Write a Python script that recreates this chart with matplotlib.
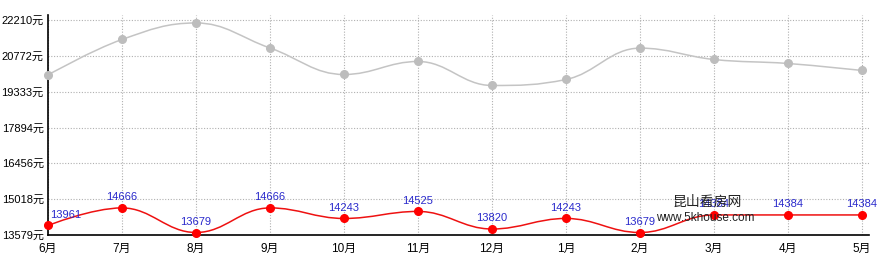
import numpy as np
import matplotlib
matplotlib.use("Agg")
import matplotlib.pyplot as plt
from matplotlib.path import Path
from matplotlib.patches import PathPatch

plt.rcParams["font.family"] = ["Liberation Sans", "Noto Sans CJK SC", "DejaVu Sans"]

months = ["6月", "7月", "8月", "9月", "10月", "11月", "12月", "1月", "2月", "3月", "4月", "5月"]
gray_vals = [20002, 21427, 22090, 21086, 20022, 20544, 19581, 19821, 21080, 20624, 20464, 20183]
red_vals = [13961, 14666, 13679, 14666, 14243, 14525, 13820, 14243, 13679, 14384, 14384, 14384]
yticks = [13579, 15018, 16456, 17894, 19333, 20772, 22210]


def spline_path(xs, ys, smoothing=1.5):
    """Highcharts-style spline: bezier control points from neighbours."""
    n = len(xs)
    ctrl = []
    for i in range(n):
        if i == 0 or i == n - 1:
            ctrl.append((None, None))
            continue
        d = smoothing + 1
        lx = (smoothing * xs[i] + xs[i - 1]) / d
        ly = (smoothing * ys[i] + ys[i - 1]) / d
        rx = (smoothing * xs[i] + xs[i + 1]) / d
        ry = (smoothing * ys[i] + ys[i + 1]) / d
        corr = (ry - ly) * (rx - xs[i]) / (rx - lx) + ys[i] - ry
        ly += corr; ry += corr
        # flatten at local extremes so the curve doesn't overshoot
        if ly > ys[i - 1] and ly > ys[i]:
            ly = max(ys[i - 1], ys[i]); ry = 2 * ys[i] - ly
        elif ly < ys[i - 1] and ly < ys[i]:
            ly = min(ys[i - 1], ys[i]); ry = 2 * ys[i] - ly
        if ry > ys[i + 1] and ry > ys[i]:
            ry = max(ys[i + 1], ys[i]); ly = 2 * ys[i] - ry
        elif ry < ys[i + 1] and ry < ys[i]:
            ry = min(ys[i + 1], ys[i]); ly = 2 * ys[i] - ry
        ctrl.append(((lx, ly), (rx, ry)))
    verts = [(xs[0], ys[0])]
    codes = [Path.MOVETO]
    for i in range(1, n):
        c1 = ctrl[i - 1][1] or (xs[i - 1], ys[i - 1])
        c2 = ctrl[i][0] or (xs[i], ys[i])
        verts += [c1, c2, (xs[i], ys[i])]
        codes += [Path.CURVE4] * 3
    return Path(verts, codes)


x = np.arange(len(months))
fig = plt.figure(figsize=(8.92, 2.7), dpi=100)
ax = fig.add_axes([48 / 892, 1 - 235 / 270, (869 - 48) / 892, 220 / 270])

ax.set_xlim(0, 11.095)
ax.set_ylim(13579, 22410)

ax.add_patch(PathPatch(spline_path(x, gray_vals), fc="none", ec="#c4c4c4", lw=1.1, zorder=3))
ax.plot(x, gray_vals, "o", color="#bdbdbd", ms=5.5, zorder=4, clip_on=False)

ax.add_patch(PathPatch(spline_path(x, red_vals), fc="none", ec="#ee1111", lw=1.1, zorder=3))
ax.plot(x, red_vals, "o", color="#ff0000", ms=5.5, zorder=4, clip_on=False)

for i, v in enumerate(red_vals):
    if i == 0:
        ax.annotate(str(v), (x[i] + 0.03, v), xytext=(0, 4), textcoords="offset points",
                    ha="left", va="bottom", color="#2a2acc", fontsize=8)
    else:
        ax.annotate(str(v), (x[i], v), xytext=(0, 4), textcoords="offset points",
                    ha="center", va="bottom", color="#2a2acc", fontsize=8)

ax.set_yticks(yticks)
ax.set_yticklabels([f"{t}元" for t in yticks], fontsize=8)
ax.set_xticks(x)
ax.set_xticklabels(months, fontsize=8.5)
ax.tick_params(length=0, pad=3)
ax.tick_params(axis="x", pad=6)

ax.grid(True, ls=(0, (1, 1.5)), color="#b0b0b0", lw=0.8)
for s in ["top", "right"]:
    ax.spines[s].set_visible(False)
for s in ["left", "bottom"]:
    ax.spines[s].set_color("black")
    ax.spines[s].set_linewidth(1.2)
ax.set_axisbelow(True)

# site watermark
fig.text(707 / 892, 1 - 202 / 270, "昆山看房网", ha="center", va="center",
         fontsize=10, color="#222222", family=["Noto Sans CJK SC", "DejaVu Sans"])
fig.text(705 / 892, 1 - 218 / 270, "www.5khouse.com", ha="center", va="center",
         fontsize=8.5, color="#222222")

fig.savefig("out.png", dpi=100)
